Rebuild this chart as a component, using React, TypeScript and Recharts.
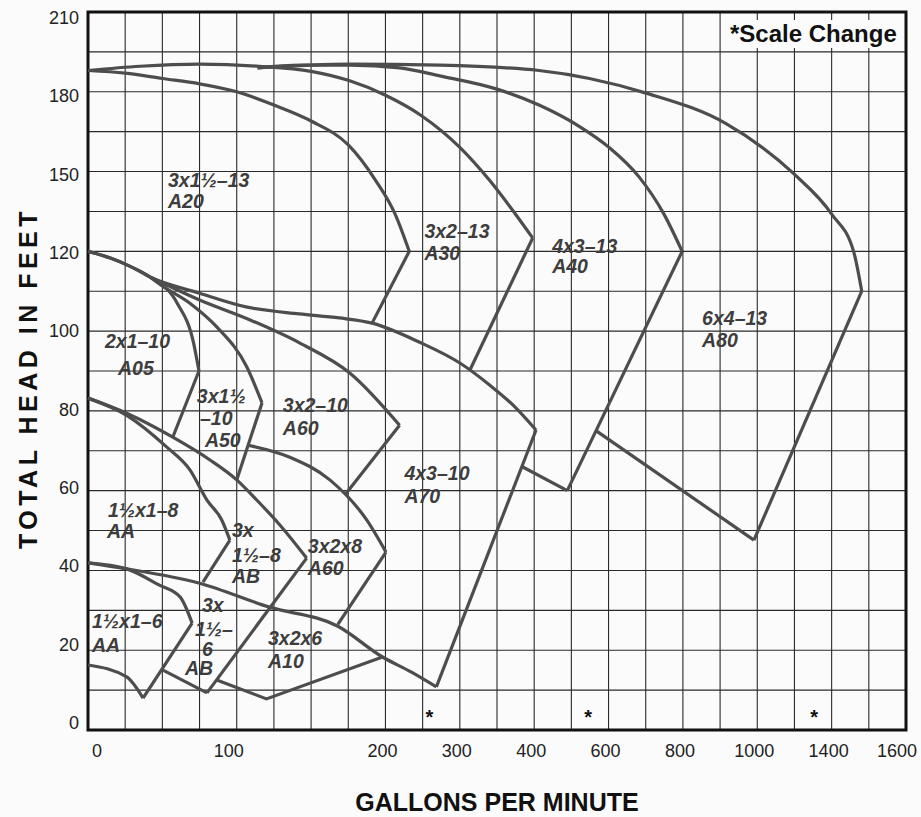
import React from 'react';
import { ComposedChart, Line, Scatter, XAxis, YAxis, CartesianGrid, ReferenceArea } from 'recharts';

// axis scale changes: each tick label sits on a fixed grid column / row
const gpmTicks = [0, 100, 200, 300, 400, 600, 800, 1000, 1400, 1600];
const gpmCols = [0, 4, 8, 10, 12, 14, 16, 18, 20, 22];
const headTicks = [0, 20, 40, 60, 80, 100, 120, 150, 180, 210];
const headRows = [0, 2, 4, 6, 8, 10, 12, 14, 16, 18];

// [gpm, head ft]
// 13" pumps
const a20Top = [[0, 188], [25, 187], [50, 185], [75, 183], [100, 180], [125, 175], [150, 169], [175, 160], [193, 147], [213, 134], [232, 120]];
const a20Edge = [[232, 120], [191, 102]];
const a30Top = [[0, 188], [35, 189.6], [75, 190.4], [115, 189.6], [150, 187.7], [175, 184.3], [200, 178.7], [248, 171.1], [300, 159.1], [340, 146.7], [369, 136.2], [398, 125]];
const a30Edge = [[398, 125], [313, 90]];
const a40Top = [[114, 189], [143, 190], [176, 190], [219, 189], [273, 186], [350, 181], [413, 175], [521, 167], [602, 159], [682, 148], [749, 134], [798, 120]];
const a40Edge = [[798, 120], [489, 60]];
const a40Bottom = [[384, 66], [489, 60]];
const a80Top = [[114, 189], [176, 190.4], [273, 190], [413, 188], [701, 179.5], [916, 168], [1199, 149], [1400, 134], [1459, 120], [1481, 110]];
const a80Edge = [[1481, 110], [991, 47.6]];
const a80Bottom = [[567, 75], [991, 47.6]];
// 10" pumps
const a70Top = [[0, 120], [15, 118.3], [28, 116.3], [42, 113.5], [75, 109.5], [107, 106], [142, 104.3], [169, 103.3], [191, 102], [246, 97.2], [300, 92], [340, 86.5], [373, 81.2], [405, 75.2]];
const a70Edge = [[405, 75.2], [268.5, 10.8]];
const a05Top = [[0, 120], [15, 118.3], [28, 116.3], [42, 113.5], [60, 107], [71, 97], [74.6, 90]];
const a05Edge = [[74.6, 90], [57, 73.4]];
const a50Top = [[42, 113.5], [48, 111.8], [68.5, 107], [86.7, 101], [106.8, 91], [117, 82]];
const a50Edge = [[117, 82], [100, 62.7]];
const a60Top = [[42, 113.5], [75, 107.8], [109, 102.8], [142.5, 97], [176, 89.5], [219, 76.4]];
const a60Edge = [[219, 76.4], [172.7, 58.9]];
// 8" pumps
const ab8Top = [[0, 83.2], [26, 79.4], [57, 73.4], [82, 67.7], [100, 62.7], [113.6, 57.6], [129, 51.4], [147, 43.1]];
const ab8Edge = [[147, 43.1], [80, 9.3]];
const aa8Top = [[0, 83.2], [26, 78.9], [53, 70.9], [68.5, 65.2], [80, 57.6], [90, 52.6], [95.4, 47.6]];
const aa8Edge = [[95.4, 47.6], [77.3, 37.1]];
const a60x8Top = [[107.5, 71.4], [135.7, 68.4], [162.6, 62.7], [187.5, 52.6], [200.7, 44.6]];
const a60x8Edge = [[200.7, 44.6], [168, 26.5]];
// 6" pumps
const six = [[0, 41.9], [26, 40.4], [75, 36.8], [122, 30.8], [168, 26], [198, 18.3], [235, 14.5], [268.5, 10.8]];
const aa6Top = [[0, 41.9], [26, 40.4], [48, 36.3], [62, 33.3], [70, 26.8]];
const aa6Edge = [[70, 26.8], [37, 8]];
const aa6Bottom = [[0, 16.3], [26, 13.3], [37, 8]];
const ab6Bottom = [[50.4, 15], [80, 9.3]];
const a10Bottom = [[87, 12.5], [120, 7.8], [198, 18.3]];

const curves = [a20Top, a30Top, a40Top, a80Top, a70Top, a05Top, a50Top, a60Top, ab8Top, aa8Top, a60x8Top, six, aa6Top, aa6Bottom];
const edges = [a20Edge, a30Edge, a40Edge, a40Bottom, a80Edge, a80Bottom, a70Edge, a05Edge, a50Edge, a60Edge, ab8Edge, aa8Edge, a60x8Edge, aa6Edge, ab6Bottom, a10Bottom];

// pump labels: [gpm, head, text]
const pumpLabels = [
  [53.8, 144.1, '3x1½–13'], [53.8, 136.2, 'A20'],
  [252.4, 124.9, '3x2–13'], [252.4, 117.8, 'A30'],
  [448.4, 119.5, '4x3–13'], [448.4, 114.5, 'A40'],
  [851.6, 101.5, '6x4–13'], [851.6, 96, 'A80'],
  [11.4, 95.7, '2x1–10'], [20.2, 89, 'A05'],
  [73.2, 82, '3x1½'], [75.3, 76.4, '–10'], [78.6, 70.9, 'A50'],
  [131, 79.7, '3x2–10'], [131, 73.9, 'A60'],
  [225.5, 62.7, '4x3–10'], [225.5, 56.9, 'A70'],
  [13.4, 53.4, '1½x1–8'], [12.8, 48.1, 'AA'],
  [96.8, 48.4, '3x'], [96.8, 42.1, '1½–8'], [96.8, 36.8, 'AB'],
  [147.8, 44.4, '3x2x8'], [147.8, 38.8, 'A60'],
  [2.7, 25.6, '1½x1–6'], [2.7, 19.5, 'AA'],
  [76.6, 29.6, '3x'], [71.9, 23.6, '1½–'], [76.6, 18.6, '6'], [65.2, 13.8, 'AB'],
  [121, 21.3, '3x2x6'], [121, 15.5, 'A10'],
];
const scaleStars = [259, 545, 1306];

const interp = (v: number, from: number[], to: number[]) => {
  for (let i = 1; i < from.length; i++) {
    if (v <= from[i] || i === from.length - 1) {
      const t = (v - from[i - 1]) / (from[i] - from[i - 1]);
      return to[i - 1] + t * (to[i] - to[i - 1]);
    }
  }
  return to[0];
};
const toCol = (g: number) => interp(g, gpmTicks, gpmCols);
const toRow = (h: number) => interp(h, headTicks, headRows);
const toPts = (arr: number[][]) => arr.map(([g, h]) => ({ x: toCol(g), y: toRow(h) }));

const FONT = '"Liberation Sans", Arial, Helvetica, sans-serif';
const colTicks = Array.from({ length: 23 }, (_, i) => i);
const rowTicks = Array.from({ length: 19 }, (_, i) => i);

const XTick = (props: any) => {
  const i = gpmCols.indexOf(props.payload.value);
  if (i < 0) return <g />;
  const shift = i === 0 ? 9 : i === 1 ? -8 : i === gpmCols.length - 1 ? -9 : -3;
  return (
    <text x={props.x + shift} y={757} textAnchor="middle" fontSize={18} fill="#222" fontFamily={FONT}>
      {gpmTicks[i]}
    </text>
  );
};

const YTick = (props: any) => {
  const i = headRows.indexOf(props.payload.value);
  if (i < 0) return <g />;
  // printed labels drift a little from the grid lines, lower at top, higher at bottom
  const drift = 6 - (13 * (props.y - 12)) / 718;
  return (
    <text x={79} y={props.y + drift + 6} textAnchor="end" fontSize={18} fill="#222" fontFamily={FONT}>
      {headTicks[i]}
    </text>
  );
};

const PumpText = (props: any) => (
  <text x={props.cx} y={props.cy} fontSize={19.5} fontWeight="bold" fontStyle="italic" fill="#3d3d3d" fontFamily={FONT}>
    {props.payload.t}
  </text>
);

const Star = (props: any) => (
  <text x={props.cx} y={props.cy + 8} textAnchor="middle" fontSize={20} fontWeight="bold" fill="#111" fontFamily={FONT}>
    *
  </text>
);

export default function App() {
  const labelData = pumpLabels.map(([g, h, t]) => ({ x: toCol(g as number), y: toRow(h as number), t }));
  const starData = scaleStars.map((g) => ({ x: toCol(g), y: toRow(3.5) }));
  return (
    <div style={{ position: 'absolute', left: 0, top: 0, width: 921, height: 817, background: '#fbfbfb', overflow: 'hidden' }}>
      <ComposedChart width={921} height={817} margin={{ top: 12, right: 15, bottom: 0, left: 0 }}>
        <CartesianGrid stroke="#2a2a2a" strokeWidth={1.1} />
        <XAxis dataKey="x" type="number" domain={[0, 22]} ticks={colTicks} interval={0} tick={<XTick />} tickLine={false} axisLine={false} height={87} />
        <YAxis dataKey="y" type="number" domain={[0, 18]} ticks={rowTicks} interval={0} tick={<YTick />} tickLine={false} axisLine={false} width={88} />
        {curves.map((c, i) => (
          <Line key={`c${i}`} data={toPts(c)} dataKey="y" type="monotone" stroke="#4d4d4d" strokeWidth={3.2} dot={false} activeDot={false} isAnimationActive={false} />
        ))}
        {edges.map((c, i) => (
          <Line key={`e${i}`} data={toPts(c)} dataKey="y" type="linear" stroke="#4d4d4d" strokeWidth={3.2} dot={false} activeDot={false} isAnimationActive={false} />
        ))}
        <ReferenceArea x1={0} x2={22} y1={0} y2={18} fill="none" stroke="#111" strokeWidth={3} />
        <Scatter data={labelData} dataKey="y" shape={<PumpText />} isAnimationActive={false} />
        <Scatter data={starData} dataKey="y" shape={<Star />} isAnimationActive={false} />
      </ComposedChart>
      <div style={{ position: 'absolute', left: 728, top: 20, fontFamily: FONT, fontWeight: 'bold', fontSize: 24, color: '#111', background: '#fbfbfb', lineHeight: '28px', padding: '0 2px' }}>
        *Scale Change
      </div>
      <div style={{ position: 'absolute', left: 0, width: 994, top: 788, textAlign: 'center', fontFamily: FONT, fontWeight: 'bold', fontSize: 25, color: '#111', lineHeight: '28px' }}>
        GALLONS PER MINUTE
      </div>
      <div style={{ position: 'absolute', left: 28, top: 378, transform: 'translate(-50%, -50%) rotate(-90deg)', whiteSpace: 'nowrap', fontFamily: FONT, fontWeight: 'bold', fontSize: 25, letterSpacing: 4.5, color: '#111', lineHeight: '28px' }}>
        TOTAL HEAD IN FEET
      </div>
    </div>
  );
}
